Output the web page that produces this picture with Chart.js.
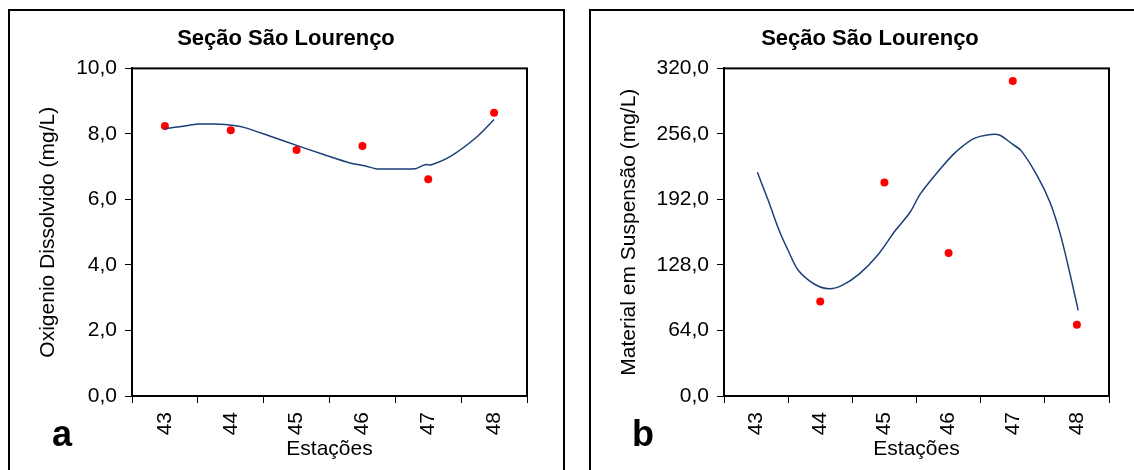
<!DOCTYPE html>
<html>
<head>
<meta charset="utf-8">
<script src="https://cdn.jsdelivr.net/npm/chart.js@4"></script>
<style>
  html, body { margin: 0; padding: 0; background: #fff; width: 1134px; height: 470px; overflow: hidden; }
  .box { position: absolute; border: 2px solid #000; box-sizing: border-box; }
  .wrap { position: absolute; }
  .letra { position: absolute; font-family: "Liberation Sans", Arial, sans-serif; font-weight: bold; font-size: 36px; line-height: 36px; color: #000; }
</style>
</head>
<body>
<div class="box" style="left:8px; top:9px; width:557px; height:480px;"></div>
<div class="box" style="left:589px; top:9px; width:580px; height:480px;"></div>
<div class="wrap" style="left:10px; top:12px; width:552px; height:458px;"><canvas id="chartA"></canvas></div>
<div class="wrap" style="left:591px; top:12px; width:558px; height:458px;"><canvas id="chartB"></canvas></div>
<div class="letra" style="left:52px; top:416px;">a</div>
<div class="letra" style="left:632px; top:416px;">b</div>
<script>
const estacoes = [43, 44, 45, 46, 47, 48];

// a: oxigênio dissolvido
const odObs = [8.24, 8.11, 7.51, 7.63, 6.62, 8.65];
const odTrendX = [43.0, 43.15, 43.3, 43.5, 43.75, 44.05, 44.2, 44.6, 45.0, 45.4, 45.8, 46.05, 46.2, 46.5, 46.8, 46.95, 47.05, 47.35, 47.75, 48.0];
const odTrendY = [8.16, 8.2, 8.24, 8.3, 8.3, 8.26, 8.2, 7.93, 7.65, 7.38, 7.12, 7.02, 6.94, 6.93, 6.94, 7.06, 7.06, 7.33, 7.93, 8.44];

// b: material em suspensão
const mesObs = [null, 92.4, 208.5, 139.8, 307.6, 69.6];
const mesTrendX = [43.02, 43.19, 43.36, 43.5, 43.66, 43.92, 44.14, 44.34, 44.61, 44.89, 45.17, 45.4, 45.56, 45.87, 46.07, 46.23, 46.4, 46.6, 46.79, 46.99, 47.13, 47.38, 47.58, 47.74, 47.88, 48.02];
const mesTrendY = [218.5, 190.9, 161.6, 142.1, 122.6, 108.9, 104.7, 108.0, 119.3, 137.2, 161.6, 179.5, 197.4, 221.8, 235.8, 244.6, 251.7, 255.0, 255.0, 246.2, 239.7, 215.3, 189.3, 158.4, 122.6, 83.6];

const fonte = "'Liberation Sans', Arial, sans-serif";
const azul = "#1c3f78";

// moldura do gráfico (topo e direita)
const moldura = {
  id: "moldura",
  afterDraw(chart) {
    const { ctx, chartArea: a } = chart;
    ctx.save();
    ctx.strokeStyle = "#000";
    ctx.lineWidth = 2;
    ctx.strokeRect(a.left, a.top, a.right - a.left, a.bottom - a.top);
    ctx.restore();
  }
};

function montar(id, obs, tx, ty, yMax, yStep, yTitulo, yLargura, margemDir) {
  const pontos = estacoes.map((e, i) => ({ x: e, y: obs[i] })).filter(p => p.y !== null);
  const linha = tx.map((x, i) => ({ x: x, y: ty[i] }));
  return new Chart(document.getElementById(id), {
    type: "scatter",
    data: {
      datasets: [
        {
          data: linha,
          showLine: true,
          borderColor: azul,
          borderWidth: 1.5,
          pointRadius: 0,
          tension: 0.3
        },
        {
          data: pontos,
          showLine: false,
          pointRadius: 4,
          pointBackgroundColor: "#ff0000",
          pointBorderWidth: 0
        }
      ]
    },
    options: {
      responsive: true,
      maintainAspectRatio: false,
      animation: false,
      layout: { padding: 0 },
      plugins: {
        legend: { display: false },
        tooltip: { enabled: false },
        title: {
          display: true,
          text: "Seção São Lourenço",
          color: "#000",
          font: { family: fonte, size: 22, weight: "bold" },
          padding: { top: 14, bottom: 16 }
        }
      },
      scales: {
        x: {
          type: "linear",
          min: 42.5,
          max: 48.5,
          afterFit: s => { s.height = 74; },
          border: { display: true, color: "#000", width: 2 },
          grid: {
            drawOnChartArea: false,
            drawTicks: true,
            tickLength: 7,
            color: c => (c.tick && Math.abs(c.tick.value % 1) > 0.1) ? "#000" : "rgba(0,0,0,0)"
          },
          ticks: {
            stepSize: 0.5,
            autoSkip: false,
            minRotation: 90,
            maxRotation: 90,
            padding: 9,
            color: "#000",
            font: { family: fonte, size: 21 },
            callback: v => Math.abs(v - Math.round(v)) < 1e-6 ? String(Math.round(v)) : ""
          },
          title: {
            display: true,
            text: "Estações",
            color: "#000",
            font: { family: fonte, size: 21 },
            padding: { top: 0, bottom: 8 }
          }
        },
        y: {
          min: 0,
          max: yMax,
          afterFit: s => { s.width = yLargura; },
          border: { display: true, color: "#000", width: 2 },
          grid: { drawOnChartArea: false, drawTicks: true, tickLength: 7, color: "#000" },
          ticks: {
            stepSize: yStep,
            padding: 8,
            color: "#000",
            font: { family: fonte, size: 21 },
            callback: v => v.toFixed(1).replace(".", ",")
          },
          title: {
            display: true,
            text: yTitulo,
            color: "#000",
            font: { family: fonte, size: 21 },
            padding: { top: 26, bottom: 0 }
          }
        },
        // eixo vazio à direita, só para reservar a margem
        margem: {
          position: "right",
          min: 0,
          max: 1,
          afterFit: s => { s.width = margemDir; },
          border: { display: false },
          grid: { display: false },
          ticks: { display: false }
        }
      }
    },
    plugins: [moldura]
  });
}

montar("chartA", odObs, odTrendX, odTrendY, 10, 2, "Oxigenio Dissolvido (mg/L)", 122, 35);
montar("chartB", mesObs, mesTrendX, mesTrendY, 320, 64, "Material em Suspensão (mg/L)", 133, 40);
</script>
</body>
</html>
